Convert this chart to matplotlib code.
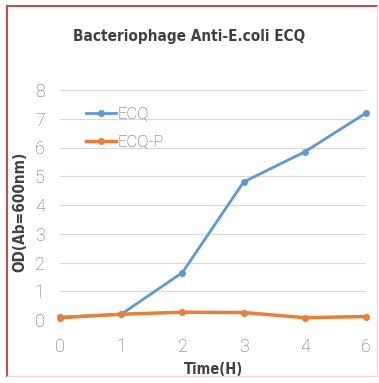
import matplotlib.pyplot as plt
from matplotlib.lines import Line2D

hours = ["0", "1", "2", "3", "4", "6"]
ecq = [0.1, 0.2, 1.65, 4.8, 5.85, 7.2]
ecq_p = [0.08, 0.2, 0.27, 0.26, 0.08, 0.12]

plt.rcParams['font.family'] = ['DejaVu Sans']

fig = plt.figure(figsize=(3.79, 3.83), dpi=100)
ax = fig.add_axes([60/379, 1 - 320/383, (366 - 60)/379, (320 - 90)/383])

x = range(len(hours))
ax.plot(x, ecq, color="#5b9bd5", lw=2, marker="o", ms=4, label="ECQ", clip_on=False)
ax.plot(x, ecq_p, color="#ed7d31", lw=2.5, marker="o", ms=4, label="ECQ-P", clip_on=False)

ax.set_ylim(0, 8)
ax.set_xlim(0, len(hours) - 1)
ax.set_xticks(list(x))
ax.set_xticklabels(hours)
ax.set_yticks(range(0, 9))
ax.grid(axis="y", color="#d9d9d9", lw=0.8)
ax.set_axisbelow(True)
for s in ax.spines.values():
    s.set_visible(False)
ax.tick_params(length=0, labelsize=13, labelcolor="#6f6f6f", pad=11)
ax.tick_params(axis="x", pad=13)
for lab in ax.get_xticklabels() + ax.get_yticklabels():
    lab.set_family(["Roboto", "DejaVu Sans"])
    lab.set_fontweight("light")

ax.set_xlabel("Time(H)", fontsize=10.5, fontweight="bold", color="#404040", labelpad=4,
              fontstretch="condensed")
ax.set_ylabel("OD(Ab=600nm)", fontsize=11, fontweight="bold", color="#404040",
              fontstretch="condensed")
ax.yaxis.set_label_coords(-0.105, 0.47)
fig.text(0.5, 1 - 36/383, "Bacteriophage Anti-E.coli ECQ", ha="center", va="center",
         fontsize=11, fontweight="bold", color="#404040", fontstretch="condensed")

leg = ax.legend(loc="upper left", bbox_to_anchor=(0.035, 0.99), frameon=False,
                handlelength=1.8, labelspacing=0.75, handletextpad=0.1,
                labelcolor="#595959", prop={"family": ["Roboto", "DejaVu Sans"],
                                             "weight": "light", "size": 12})

# chart frame
fig.add_artist(Line2D([7/379, 7/379], [1 - 6/383, 1 - 376/383], color="#c0504d", lw=1.5))
fig.add_artist(Line2D([7/379, 377/379], [1 - 6/383, 1 - 6/383], color="#c0504d", lw=1.5))
fig.add_artist(Line2D([7/379, 377/379], [1 - 376/383, 1 - 376/383], color="#f5d5dc", lw=1))
fig.add_artist(Line2D([377/379, 377/379], [1 - 6/383, 1 - 376/383], color="#f5d5dc", lw=1))

fig.savefig("out.png", dpi=100)
